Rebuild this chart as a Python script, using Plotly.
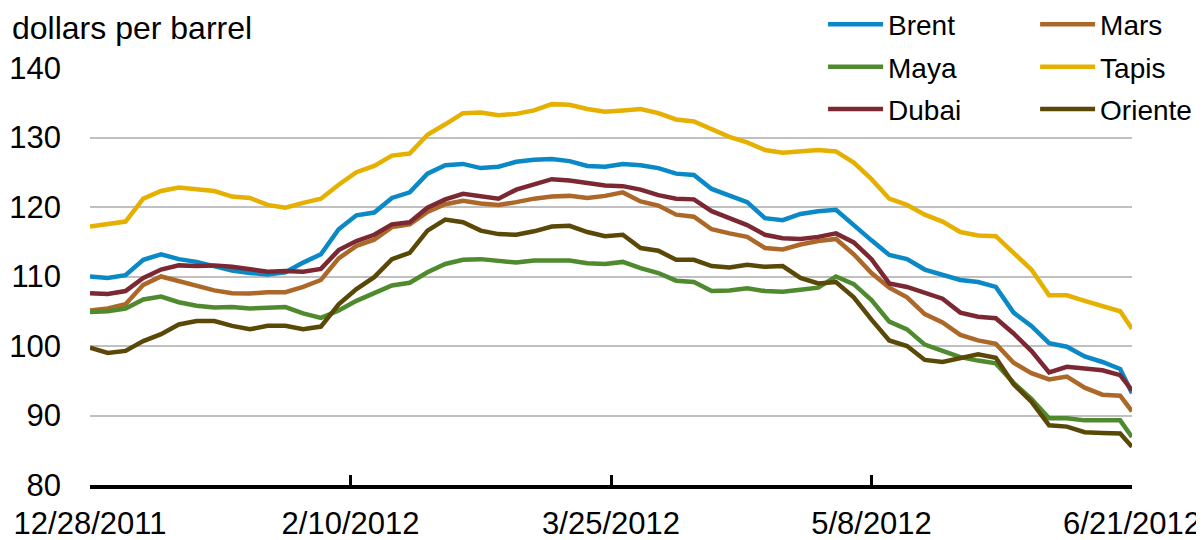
import plotly.graph_objects as go

dates = [
    "2011-12-28", "2011-12-31", "2012-01-03", "2012-01-06", "2012-01-09", "2012-01-12",
    "2012-01-15", "2012-01-18", "2012-01-21", "2012-01-24", "2012-01-27", "2012-01-30",
    "2012-02-02", "2012-02-05", "2012-02-08", "2012-02-11", "2012-02-14", "2012-02-17",
    "2012-02-20", "2012-02-23", "2012-02-26", "2012-02-29", "2012-03-03", "2012-03-06",
    "2012-03-09", "2012-03-12", "2012-03-15", "2012-03-18", "2012-03-21", "2012-03-24",
    "2012-03-27", "2012-03-30", "2012-04-02", "2012-04-05", "2012-04-08", "2012-04-11",
    "2012-04-14", "2012-04-17", "2012-04-20", "2012-04-23", "2012-04-26", "2012-04-29",
    "2012-05-02", "2012-05-05", "2012-05-08", "2012-05-11", "2012-05-14", "2012-05-17",
    "2012-05-20", "2012-05-23", "2012-05-26", "2012-05-29", "2012-06-01", "2012-06-04",
    "2012-06-07", "2012-06-10", "2012-06-13", "2012-06-16", "2012-06-19", "2012-06-21",
]

brent = [
    110.0, 109.8, 110.2, 112.4, 113.2, 112.5, 112.1, 111.5, 110.85, 110.5, 110.3, 110.6,
    112.0, 113.2, 116.8, 118.8, 119.2, 121.3, 122.1, 124.8, 126.0, 126.2, 125.6, 125.8,
    126.5, 126.8, 126.9, 126.6, 125.9, 125.8, 126.2, 126.0, 125.6, 124.8, 124.6, 122.6,
    121.6, 120.7, 118.4, 118.1, 119.0, 119.4, 119.6, 117.3, 115.2, 113.1, 112.5, 111.0,
    110.3, 109.5, 109.2, 108.5, 104.8, 102.9, 100.4, 99.9, 98.5, 97.7, 96.7, 93.2,
]
mars = [
    105.1, 105.4, 106.0, 108.8, 110.0, 109.3, 108.6, 108.0, 107.6, 107.55, 107.75, 107.75,
    108.5, 109.5, 112.6, 114.4, 115.3, 117.1, 117.5, 119.3, 120.4, 120.9, 120.5, 120.3,
    120.7, 121.2, 121.5, 121.6, 121.3, 121.6, 122.1, 120.8, 120.2, 118.9, 118.6, 116.8,
    116.2, 115.7, 114.1, 113.9, 114.6, 115.1, 115.4, 113.2, 110.5, 108.4, 107.0, 104.6,
    103.4, 101.6, 100.8, 100.3, 97.6, 96.1, 95.2, 95.6, 94.0, 93.0, 92.85, 90.6,
]
maya = [
    104.9, 105.0, 105.4, 106.7, 107.1, 106.3, 105.8, 105.55, 105.6, 105.4, 105.5, 105.6,
    104.7, 104.05, 105.1, 106.5, 107.6, 108.7, 109.1, 110.6, 111.8, 112.4, 112.5, 112.2,
    112.0, 112.3, 112.25, 112.3, 111.9, 111.8, 112.1, 111.2, 110.5, 109.4, 109.2, 107.9,
    108.0, 108.3, 107.9, 107.8, 108.1, 108.4, 110.0, 108.9, 106.6, 103.5, 102.4, 100.2,
    99.3, 98.4, 97.9, 97.5, 94.7, 92.4, 89.6, 89.6, 89.3, 89.3, 89.3, 86.9,
]
tapis = [
    117.2, 117.5, 117.9, 121.2, 122.3, 122.8, 122.5, 122.3, 121.5, 121.3, 120.3, 119.9,
    120.6, 121.2, 123.2, 125.0, 125.9, 127.4, 127.7, 130.4, 131.9, 133.5, 133.6, 133.2,
    133.4, 133.9, 134.8, 134.7, 134.1, 133.7, 133.9, 134.1, 133.5, 132.6, 132.3, 131.2,
    130.1, 129.3, 128.2, 127.8, 128.0, 128.2, 128.0, 126.4, 124.0, 121.2, 120.3, 118.9,
    117.9, 116.4, 115.9, 115.8, 113.4, 111.0, 107.3, 107.3, 106.5, 105.8, 105.0, 102.5,
]
dubai = [
    107.6, 107.5, 107.9, 109.8, 111.0, 111.6, 111.5, 111.6, 111.4, 111.0, 110.7, 110.8,
    110.7, 111.1, 113.8, 115.1, 116.0, 117.5, 117.8, 119.9, 121.1, 121.9, 121.6, 121.2,
    122.5, 123.3, 124.0, 123.8, 123.4, 123.1, 123.0, 122.5, 121.7, 121.2, 121.1, 119.4,
    118.4, 117.4, 116.0, 115.5, 115.4, 115.7, 116.2, 114.9, 112.5, 109.0, 108.5, 107.6,
    106.8, 104.8, 104.2, 104.0, 101.8, 99.3, 96.2, 97.0, 96.8, 96.5, 95.8, 93.6,
]
oriente = [
    99.75, 99.0, 99.3, 100.7, 101.7, 103.1, 103.6, 103.6, 102.9, 102.4, 102.9, 102.9,
    102.4, 102.8, 106.0, 108.2, 109.9, 112.5, 113.4, 116.6, 118.2, 117.8, 116.6, 116.1,
    116.0, 116.5, 117.2, 117.3, 116.4, 115.8, 116.0, 114.1, 113.7, 112.4, 112.4, 111.5,
    111.3, 111.7, 111.4, 111.5, 109.8, 109.0, 109.2, 107.0, 103.8, 100.8, 100.0, 98.0,
    97.7, 98.2, 98.8, 98.3, 94.5, 92.0, 88.6, 88.4, 87.6, 87.5, 87.4, 85.5,
]

tick_dates = ["2011-12-28", "2012-02-10", "2012-03-25", "2012-05-08", "2012-06-21"]
tick_labels = ["12/28/2011", "2/10/2012", "3/25/2012", "5/8/2012", "6/21/2012"]

series = [
    ("Brent", brent, "#0A89C6", "legend"),
    ("Mars", mars, "#AC6828", "legend2"),
    ("Maya", maya, "#4F8A2E", "legend"),
    ("Tapis", tapis, "#E6B000", "legend2"),
    ("Dubai", dubai, "#7B2833", "legend"),
    ("Oriente", oriente, "#5A4806", "legend2"),
]

fig = go.Figure()
for name, vals, color, leg in series:
    fig.add_trace(go.Scatter(
        x=dates, y=vals, mode="lines", name=name,
        line=dict(color=color, width=4.5),
        legend=leg, legendgroup=name,
    ))

FONT = "Liberation Sans, Arial, sans-serif"
legend_common = dict(yanchor="top", xanchor="left", orientation="v",
                     tracegroupgap=3, itemwidth=55, font=dict(size=28),
                     bgcolor="rgba(0,0,0,0)", y=1.164)

# The page body has an 8px default margin, so the figure is 8px smaller
fig.update_layout(
    width=1196, height=532,
    margin=dict(l=82, r=72, t=60, b=55, autoexpand=False),
    paper_bgcolor="white", plot_bgcolor="white",
    font=dict(family=FONT, size=31, color="black"),
    showlegend=True,
    legend=dict(x=0.7035, **legend_common),
    legend2=dict(x=0.907, **legend_common),
    xaxis=dict(
        type="date", automargin=False,
        range=["2011-12-28", "2012-06-21"],
        tickvals=tick_dates, ticktext=tick_labels,
        showgrid=False, zeroline=False,
        showline=True, linecolor="black", linewidth=3.5,
        ticks="inside", ticklen=10, tickwidth=2.5, tickcolor="black",
        tickfont=dict(size=31),
        ticklabelstandoff=8,
    ),
    yaxis=dict(
        automargin=False,
        range=[80, 140], tickvals=[80, 90, 100, 110, 120, 130, 140],
        showgrid=True, gridcolor="#C0C0C0", gridwidth=2,
        zeroline=False, showline=False, ticks="",
        tickfont=dict(size=31),
        ticklabelstandoff=28,
    ),
    annotations=[dict(
        text="dollars per barrel", xref="paper", yref="paper",
        x=-0.077, y=1.095, xanchor="left", yanchor="middle",
        showarrow=False, font=dict(size=32),
    )],
)

fig.write_html("out.html")
